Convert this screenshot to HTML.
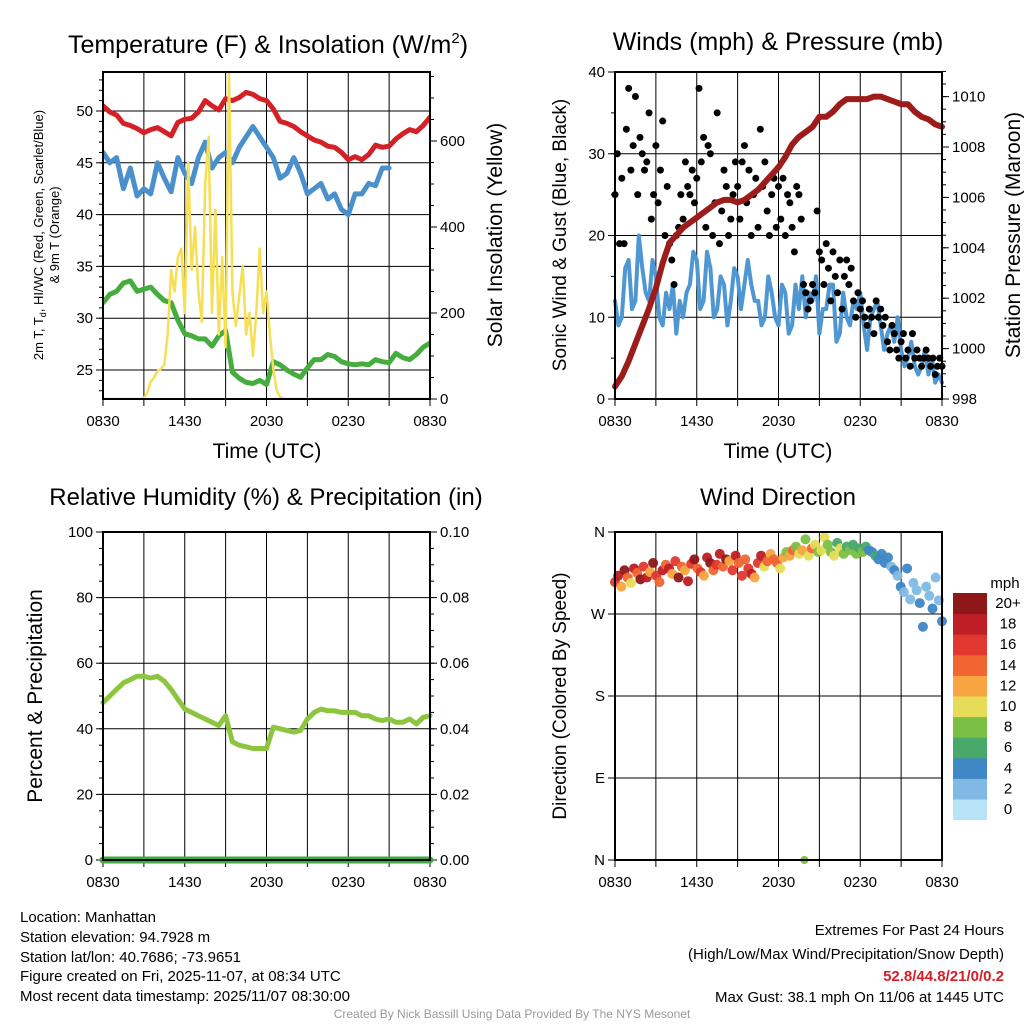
<!DOCTYPE html>
<html><head><meta charset="utf-8"><style>
body{margin:0;background:#fff}
svg{display:block;font-family:"Liberation Sans",sans-serif}
</style></head><body>
<svg id="c" width="1024" height="1024" viewBox="0 0 1024 1024" xmlns="http://www.w3.org/2000/svg">
<g id="static" font-size="14" fill="#000">
<text x="268" y="53" font-size="25" text-anchor="middle">Temperature (F) &amp; Insolation (W/m<tspan font-size="15" dy="-10">2</tspan><tspan dy="10">)</tspan></text>
<text x="778" y="50" font-size="25" text-anchor="middle">Winds (mph) &amp; Pressure (mb)</text>
<text x="266" y="505" font-size="24" text-anchor="middle">Relative Humidity (%) &amp; Precipitation (in)</text>
<text x="778" y="505" font-size="24" text-anchor="middle">Wind Direction</text>
<text x="267" y="458" font-size="21" text-anchor="middle">Time (UTC)</text>
<text x="778" y="458" font-size="21" text-anchor="middle">Time (UTC)</text>
<text transform="translate(43,235) rotate(-90)" font-size="13" text-anchor="middle">2m T, T<tspan font-size="9" dy="3">d</tspan><tspan dy="-3">, HI/WC (Red, Green, Scarlet/Blue)</tspan></text>
<text transform="translate(59,235) rotate(-90)" font-size="13" text-anchor="middle">&amp; 9m T (Orange)</text>
<text transform="translate(502,235) rotate(-90)" font-size="21" text-anchor="middle">Solar Insolation (Yellow)</text>
<text transform="translate(566,235) rotate(-90)" font-size="19" text-anchor="middle">Sonic Wind &amp; Gust (Blue, Black)</text>
<text transform="translate(1020,235) rotate(-90)" font-size="21" text-anchor="middle">Station Pressure (Maroon)</text>
<text transform="translate(42,696) rotate(-90)" font-size="21" text-anchor="middle">Percent &amp; Precipitation</text>
<text transform="translate(566,696) rotate(-90)" font-size="19" text-anchor="middle">Direction (Colored By Speed)</text>
<g font-size="15">
<text x="20" y="922">Location: Manhattan</text>
<text x="20" y="942">Station elevation: 94.7928 m</text>
<text x="20" y="962">Station lat/lon: 40.7686; -73.9651</text>
<text x="20" y="981">Figure created on Fri, 2025-11-07, at 08:34 UTC</text>
<text x="20" y="1001">Most recent data timestamp: 2025/11/07 08:30:00</text>
</g>
<g font-size="15" text-anchor="end">
<text x="1004" y="935">Extremes For Past 24 Hours</text>
<text x="1004" y="959">(High/Low/Max Wind/Precipitation/Snow Depth)</text>
<text x="1004" y="981" fill="#d42027" font-weight="bold">52.8/44.8/21/0/0.2</text>
<text x="1004" y="1002">Max Gust: 38.1 mph On 11/06 at 1445 UTC</text>
</g>
<text x="512" y="1018" font-size="12" fill="#999" text-anchor="middle">Created By Nick Bassill Using Data Provided By The NYS Mesonet</text>
</g>
</svg>
<script>
const xTickLabels=["0830","1430","2030","0230","0830"];
const tempRed=[50.5,49.9,49.6,48.8,48.6,48.3,47.9,48.2,48.4,48.0,47.6,48.9,49.2,49.3,49.9,51.0,50.5,50.1,51.2,51.0,51.3,51.8,51.6,51.2,51.0,50.2,49.0,48.8,48.5,48.0,47.6,47.2,47.0,46.6,46.5,46.0,45.3,45.6,45.3,45.8,46.7,46.5,46.6,47.3,47.8,48.2,48.0,48.6,49.4];
const tempBlue=[46,45,45.5,42.5,44.5,41.8,42.5,42,45,43.5,42.2,45.5,44,43,45.5,47,44.5,45.5,46,45,46.5,47.5,48.5,47.5,46.5,45.5,43.5,44,45.5,44,42,42.5,43,41.5,42,40.5,40,42,42,43,42.8,44.5,44.5,null,null,null,null,null,null];
const tempGreen=[31.5,32.3,32.6,33.4,33.6,32.6,32.8,33.0,32.3,31.7,31.5,29.8,28.5,28.3,28.0,28.0,27.3,28.3,28.8,24.8,24.2,23.8,23.7,24.0,23.6,25.8,25.5,25.0,24.6,24.3,25.2,26.0,26.0,26.5,26.3,25.8,25.6,25.5,25.6,25.5,26.0,25.8,25.7,26.6,26.2,26.0,26.5,27.2,27.6];
const insolation=[0,0,0,0,0,0,0,0,0,0,0,0,2,15,40,50,65,70,80,150,300,250,330,350,200,550,300,400,250,180,500,610,200,440,150,330,120,760,250,170,240,310,150,200,100,200,350,200,250,150,70,20,5,1,0,0,0,0,0,0,0,0,0,0,0,0,0,0,0,0,0,0,0,0,0,0,0,0,0,0,0,0,0,0,0,0,0,0,0,0,0,0,0,0,0,0,0];
const tempTicks=[25,30,35,40,45,50];
const solarTicks=[0,200,400,600];
const windSpeed=[12,9,10,16,17,11,12,20,16,13,12,17,15,10,9,13,11,14,8,12,10,13,14,18,17,11,12,18,16,10,11,15,14,9,12,16,15,11,14,17,14,12,12,9,10,15,13,10,9,14,13,8,9,14,11,15,10,13,12,15,8,11,11,14,14,7,8,13,10,9,12,11,13,9,6,10,11,12,9,6,8,9,7,10,6,4,5,7,4,3,4,6,3,5,2,3,2];
const windGust=[25,30,19,27,19,33,38,28,31,37,25,32,30,28,29,35,22,25,31,24,28,34,20,26,19,17,14,20,21,25,22,29,26,25,28,24,27,38,29,32,21,31,30,20,24,35,19,23,28,26,20,22,25,29,26,22,29,31,24,28,20,25,27,21,33,26,29,23,20,25,27,21,26,22,27,20,25,24,21,18,26,25,22,14,13,11,12,14,13,23,18,17,14,19,16,12,18,15,13,17,11,15,17,14,16,12,10,13,11,12,10,9,11,10,8,12,10,11,9,10,7,6,9,8,6,5,7,8,5,6,4,8,5,6,5,4,5,6,5,4,5,3,4,5,4];
const pressure=[998.5,998.9,999.5,1000.2,1000.9,1001.6,1002.4,1003.4,1004.2,1004.5,1004.8,1005.0,1005.2,1005.4,1005.6,1005.8,1005.9,1005.9,1005.8,1005.9,1006.1,1006.3,1006.6,1006.9,1007.2,1007.6,1008.1,1008.4,1008.6,1008.8,1009.2,1009.2,1009.4,1009.7,1009.9,1009.9,1009.9,1009.9,1010.0,1010.0,1009.9,1009.8,1009.7,1009.7,1009.4,1009.2,1009.1,1008.9,1008.8];
const windTicks=[0,10,20,30,40];
const pressureTicks=[998,1000,1002,1004,1006,1008,1010];
const relHum=[48,50,52,54,55,56,56,55.5,56,54.5,52,49,46,45,44,43,42,41,44,36,35,34.5,34,34,34,40.5,40,39.5,39,39.5,43,45,46,45.5,45.5,45,45,45,44,44,43,42.5,43,42,42,43,41.5,43.5,44];
const precip=[0,0,0,0,0,0,0,0,0,0,0,0,0,0,0,0,0,0,0,0,0,0,0,0,0];
const rhTicks=[0,20,40,60,80,100];
const precipTicks=["0.00","0.02","0.04","0.06","0.08","0.10"];
const windDir=[305,312,300,318,310,304,320,315,308,322,310,316,326,312,305,318,324,320,314,328,310,322,318,306,325,330,320,316,312,332,326,318,324,336,322,330,328,318,334,326,312,330,320,314,310,326,334,322,328,336,330,326,320,332,338,334,340,344,336,340,352,334,342,346,338,340,354,346,338,334,348,342,336,344,340,346,336,342,338,344,340,338,334,330,336,326,332,322,318,312,300,294,320,286,304,296,282,256,300,290,276,310,285,262];
const dirSpeed=[16,18,12,20,14,10,17,13,19,15,18,12,20,16,13,17,14,18,12,16,20,14,11,17,15,19,14,16,12,18,20,13,15,17,14,19,12,16,18,13,15,14,16,18,12,15,17,10,14,11,14,13,10,12,8,11,14,8,10,12,7,9,13,10,8,10,9,7,8,10,6,9,7,6,7,5,8,6,7,5,4,4,5,3,4,4,3,2,3,2,3,2,3,1,2,2,3,4,2,1,3,2,2,4];
const calmTimes=[13.9];
const calmDirs=[0];
const calmSpeeds=[7];
const dirTicks=["N","E","S","W","N"];
const speedBins=["0","2","4","6","8","10","12","14","16","18","20+"];
const binColors=["#b8e2f6","#80b9e4","#3f87c5","#48a96a","#7cbf45","#e6dc57","#f8a541","#f06530","#e0382e","#be1e26","#8e1818"];

const NS="http://www.w3.org/2000/svg";
const svg=document.getElementById('c');
function mk(tag,attrs,parent){const e=document.createElementNS(NS,tag);for(const k in attrs)e.setAttribute(k,attrs[k]);(parent||svg).appendChild(e);return e;}
function lin(d0,d1,r0,r1){return v=>r0+(v-d0)/(d1-d0)*(r1-r0);}

function panel(name,x0,x1,y0,y1){
  const g=mk('g',{});
  
  
  const xs=lin(0,24,x0,x1);
  for(let h=3;h<24;h+=3){
    const l=mk('line',{x1:xs(h),x2:xs(h),y1:y0,y2:y1,stroke:'#000','stroke-width':1},g);
    
    
  }
  xTickLabels.forEach((t,i)=>{
    const tx=mk('text',{x:xs(i*6),y:y1+27,'font-size':15,'text-anchor':'middle'},g);
    tx.textContent=t;
    
    
  });
  for(let h=0;h<=24;h+=3){mk('line',{x1:xs(h),x2:xs(h),y1:y1,y2:y1+7,stroke:'#000','stroke-width':1},g);}
  return {g,xs};
}
function yAxis(g,ticks,labels,ys,x0,x1,side,grid){
  ticks.forEach((v,i)=>{
    const y=ys(v);
    if(grid) mk('line',{x1:x0,x2:x1,y1:y,y2:y,stroke:'#000','stroke-width':1},g);
    const tx=side==='l'?x0:x1;
    mk('line',{x1:tx,x2:side==='l'?tx-7:tx+7,y1:y,y2:y,stroke:'#000'},g);
    const t=mk('text',{x:side==='l'?tx-10:tx+10,y:y+5,'font-size':15,'text-anchor':side==='l'?'end':'start'},g);
    t.textContent=labels?labels[i]:v;
    
    
  });
}
function series(g,arr,xs,ys,color,w,name){
  let d='',pen=false;const n=arr.length;
  arr.forEach((v,i)=>{
    if(v===null){pen=false;return;}
    d+=(pen?'L':'M')+xs(i*24/(n-1)).toFixed(1)+' '+ys(v).toFixed(1);pen=true;
  });
  const p=mk('path',{d,fill:'none',stroke:color,'stroke-width':w,'stroke-linejoin':'round','stroke-linecap':'round'},g);
  
  
  return p;
}
function frame(g,x0,x1,y0,y1){mk('rect',{x:x0,y:y0,width:x1-x0,height:y1-y0,fill:'none',stroke:'#000','stroke-width':2},g);}

// Panel 1
(function(){
  const X0=103,X1=430,Y0=72,Y1=399;
  const {g,xs}=panel('temperature-panel',X0,X1,Y0,Y1);
  const yt=lin(25,50,370,111), ysol=lin(0,600,399,141);
  yAxis(g,tempTicks,null,yt,X0,X1,'l',true);
  yAxis(g,solarTicks,null,ysol,X0,X1,'r',false);
  for(let v=23;v<=53;v++){mk('line',{x1:X0,x2:X0-4,y1:yt(v),y2:yt(v),stroke:'#000'},g);}
  for(let v=50;v<=750;v+=50){mk('line',{x1:X1,x2:X1+4,y1:ysol(v),y2:ysol(v),stroke:'#000'},g);}
  const cg=mk('g',{'clip-path':'url(#cp1)'},g);
  const cp=mk('clipPath',{id:'cp1'});mk('rect',{x:X0,y:Y0-2,width:X1-X0,height:Y1-Y0+2},cp);
  series(cg,tempRed,xs,yt,'#d42027',5,'temperature-line');
  series(cg,tempBlue,xs,yt,'#4a90cc',5,'heat-index-line');
  series(cg,tempGreen,xs,yt,'#44ad3e',5,'dewpoint-line');
  series(cg,insolation,xs,ysol,'#f6df55',2.5,'insolation-line');
  frame(g,X0,X1,Y0,Y1);
})();

// Panel 2
(function(){
  const X0=615,X1=942,Y0=72,Y1=399;
  const {g,xs}=panel('wind-panel',X0,X1,Y0,Y1);
  const yw=lin(0,40,399,72), yp=lin(998,1010,399,96.6);
  yAxis(g,windTicks,null,yw,X0,X1,'l',true);
  yAxis(g,pressureTicks,null,yp,X0,X1,'r',false);
  for(let v=0;v<=40;v+=5){mk('line',{x1:X0,x2:X0-4,y1:yw(v),y2:yw(v),stroke:'#000'},g);}
  for(let v=998;v<=1011;v+=0.5){mk('line',{x1:X1,x2:X1+4,y1:yp(v),y2:yp(v),stroke:'#000'},g);}
  series(g,windSpeed,xs,yw,'#4e97d2',4,'wind-speed-line');
  const n=windGust.length;
  windGust.forEach((v,i)=>{
    const c=mk('circle',{cx:xs(i*24/(n-1)),cy:yw(v),r:3.5,fill:'#000'},g);
    
    
  });
  series(g,pressure,xs,yp,'#9c1c1c',6,'pressure-line');
  frame(g,X0,X1,Y0,Y1);
})();

// Panel 3
(function(){
  const X0=103,X1=430,Y0=532,Y1=860;
  const {g,xs}=panel('humidity-panel',X0,X1,Y0,Y1);
  const yr=lin(0,100,860,532), ypr=lin(0,0.1,860,532);
  yAxis(g,rhTicks,null,yr,X0,X1,'l',true);
  yAxis(g,precipTicks.map(Number),precipTicks,ypr,X0,X1,'r',false);
  for(let v=0;v<=100;v+=5){mk('line',{x1:X0,x2:X0-4,y1:yr(v),y2:yr(v),stroke:'#000'},g);mk('line',{x1:X1,x2:X1+4,y1:yr(v),y2:yr(v),stroke:'#000'},g);}
  series(g,relHum,xs,yr,'#8cc63f',5,'humidity-line');
  series(g,precip,xs,ypr,'#3ea93e',7,'precipitation-line');
  frame(g,X0,X1,Y0,Y1);
})();

// Panel 4
(function(){
  const X0=615,X1=942,Y0=532,Y1=860;
  const {g,xs}=panel('direction-panel',X0,X1,Y0,Y1);
  const yd=lin(0,360,860,532);
  yAxis(g,[0,90,180,270,360],dirTicks,yd,X0,X1,'l',true);
  function col(s){return binColors[Math.max(0,Math.min(10,Math.round(s/2)))];}
  const n=windDir.length;
  windDir.forEach((v,i)=>{
    const c=mk('circle',{cx:xs(i*24/(n-1)),cy:yd(v),r:5,fill:col(dirSpeed[i]),'fill-opacity':0.95},g);
    
    
  });
  calmTimes.forEach((t,i)=>{
    const c=mk('circle',{cx:xs(t),cy:yd(calmDirs[i]),r:4,fill:col(calmSpeeds[i])},g);
    
    
  });
  frame(g,X0,X1,Y0,Y1);
  const lg=mk('g',{});
  
  
  const mt=mk('text',{x:1005,y:588,'font-size':15,'text-anchor':'middle'},lg);mt.textContent='mph';
  const bh=20.6,top=593;
  speedBins.forEach((lab,k)=>{
    const j=speedBins.length-1-k;
    const r=mk('rect',{x:953,y:top+j*bh,width:34,height:bh+0.5,fill:binColors[k]},lg);
    
    
    const t=mk('text',{x:1008,y:top+j*bh+15,'font-size':15,'text-anchor':'middle'},lg);
    t.textContent=lab;
    
    
  });
})();
</script>
</body></html>
